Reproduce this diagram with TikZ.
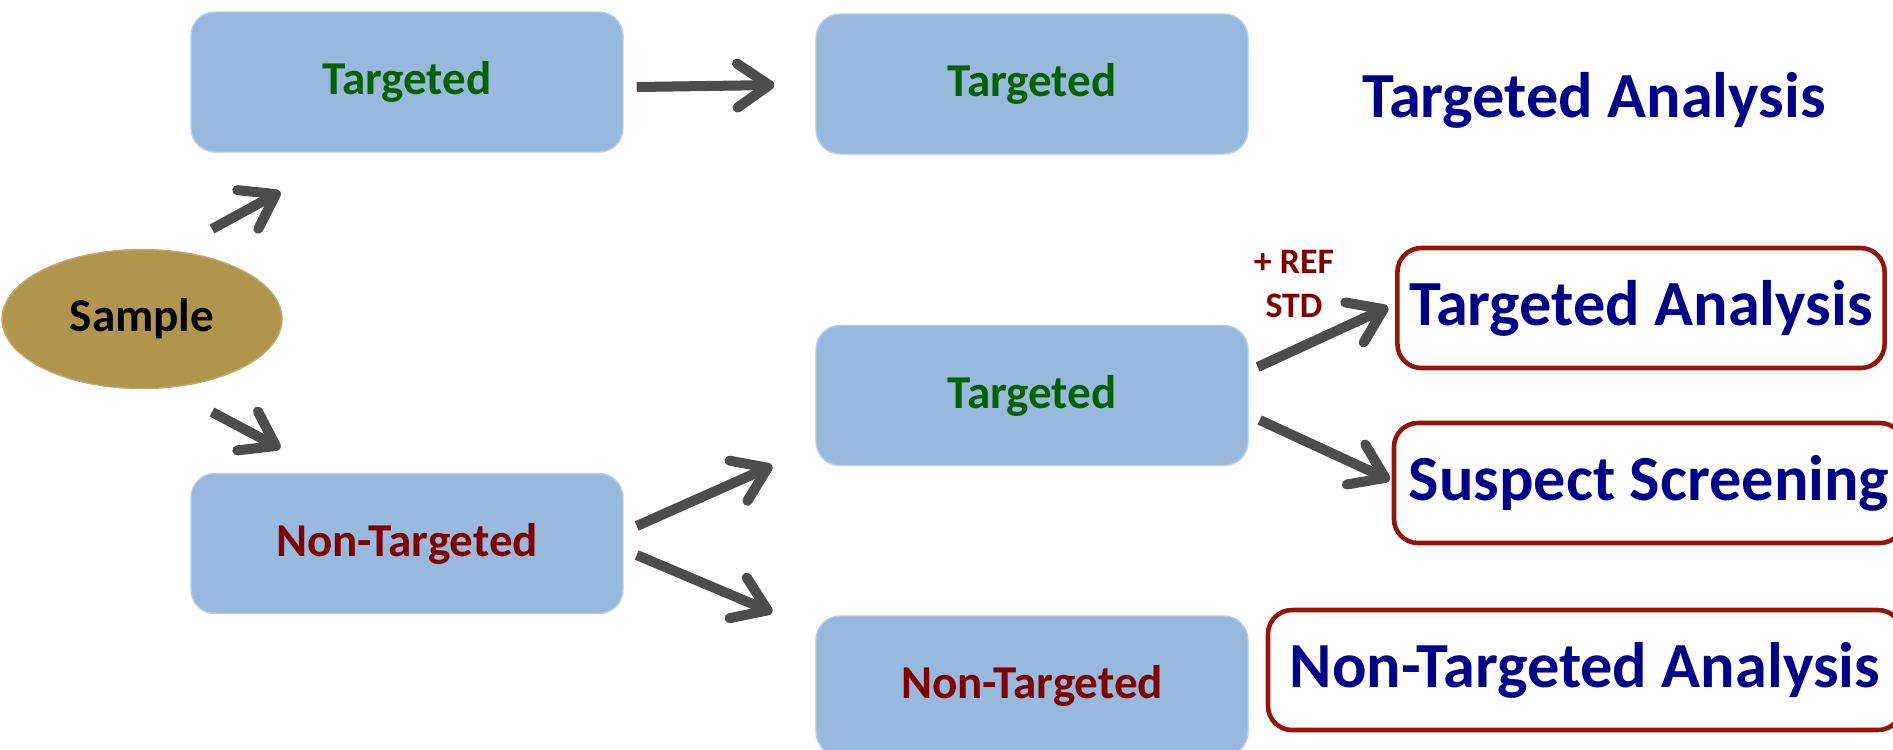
\documentclass[tikz,border=0pt]{standalone}
\usepackage{fontspec}
\setmainfont{Carlito}
\definecolor{boxblue}{RGB}{151, 185, 221}
\definecolor{samplegold}{RGB}{176, 149, 76}
\definecolor{tgtgreen}{RGB}{0, 98, 0}
\definecolor{ntred}{RGB}{128, 0, 0}
\definecolor{anblue}{RGB}{0, 0, 139}
\definecolor{framered}{RGB}{150, 20, 10}
\definecolor{arrowgray}{RGB}{77, 77, 77}
\usetikzlibrary{shapes, arrows.meta, calc}

\begin{document}
\begin{tikzpicture}[
  method/.style={rectangle, rounded corners=0.24cm, fill=boxblue, draw=boxblue!70!white, minimum width=4.32cm, minimum height=1.40cm, font=\fontsize{13.4}{16}\selectfont\bfseries},
  result/.style={rectangle, rounded corners=0.24cm, draw=framered, line width=1.3pt, fill=white, minimum height=1.20cm, font=\fontsize{18.3}{22}\selectfont\bfseries, text=anblue},
  flow/.style={draw=arrowgray, line width=2.85pt, -{Straight Barb[length=3.2mm, width=4.4mm, round]}}
]
  \useasboundingbox (0, 0) rectangle (18.93, -7.49);

  \node[ellipse, fill=samplegold, draw=samplegold!80!white, minimum width=2.80cm, minimum height=1.39cm, font=\fontsize{13.4}{16}\selectfont\bfseries] (sample) at (1.42, -3.19) {Sample};

  \node[method, text=tgtgreen] (tl) at (4.07, -0.82) {Targeted};
  \node[method, text=ntred] (bl) at (4.07, -5.435) {Non-Targeted};
  \node[method, text=tgtgreen] (tm) at (10.32, -0.84) {Targeted};
  \node[method, text=tgtgreen] (mm) at (10.32, -3.955) {Targeted};
  \node[method, text=ntred] (bm) at (10.32, -6.86) {Non-Targeted};

  \node[font=\fontsize{18.3}{22}\selectfont\bfseries, text=anblue] (tgtan) at (15.94, -1.00) {Targeted Analysis};
  \node[result, minimum width=4.84cm] (ta) at (16.41, -3.08) {Targeted Analysis};
  \node[result, minimum width=5.10cm] (ss) at (16.49, -4.83) {Suspect Screening};
  \node[result, minimum width=6.34cm] (nta) at (15.85, -6.70) {Non-Targeted Analysis};
  \node[font=\fontsize{10.2}{12.3}\selectfont\bfseries, text=ntred, align=center] (refstd) at (12.94, -2.84) {+ REF\\STD};

  \draw[flow] ($(sample.center)+(0.70,0.90)$) -- ($(tl.south west)+(0.90,-0.39)$);
  \draw[flow] ($(sample.center)+(0.70,-0.93)$) -- ($(bl.north west)+(0.90,0.245)$);
  \draw[flow] ($(tl.east)+(0.13,-0.05)$) -- ($(tm.west)+(-0.41,-0.01)$);
  \draw[flow] ($(bl.east)+(0.13,0.175)$) -- ($(mm.south west)+(-0.43,0.005)$);
  \draw[flow] ($(bl.east)+(0.13,-0.115)$) -- ($(bm.north west)+(-0.43,0.03)$);
  \draw[flow] ($(mm.east)+(0.09,0.285)$) -- ($(ta.west)+(-0.07,0.01)$);
  \draw[flow] ($(mm.east)+(0.11,-0.245)$) -- ($(ss.west)+(-0.02,0.03)$);
\end{tikzpicture}
\end{document}
